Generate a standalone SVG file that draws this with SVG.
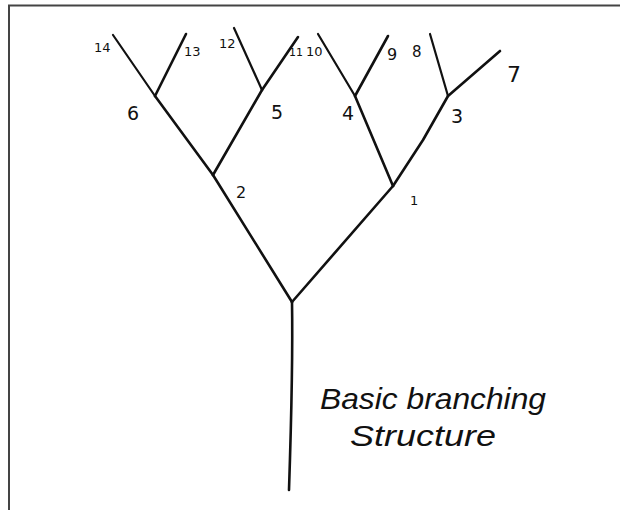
<svg xmlns="http://www.w3.org/2000/svg" width="620" height="510" viewBox="0 0 620 510">
<style>
.frame{fill:none;stroke:#444;stroke-width:2}
.br{fill:none;stroke:#111;stroke-width:2.6;stroke-linecap:round;stroke-linejoin:round}
.thin{stroke-width:2.2}
text{font-family:"DejaVu Sans","Liberation Sans",sans-serif;fill:#111}
.s{font-size:13px}
.m{font-size:19px}
.cap{font-family:"Liberation Sans",sans-serif;font-style:italic;font-size:30px}
</style>
<rect width="620" height="510" fill="#fff"/>
<path class="frame" d="M9,510 V5.5 H620"/>
<g id="connectors">
<path class="br" d="M289,490 C291,430 293,360 292,302"/>
<path class="br" d="M292,302 L213,175"/>
<path class="br" d="M292,302 L393,186"/>
<path class="br" d="M213,175 L155,96"/>
<path class="br" d="M213,175 L262,90"/>
<path class="br" d="M393,186 L355,96"/>
<path class="br" d="M393,186 L423,140 L448,96"/>
<path class="br thin" d="M155,96 L113,35"/>
<path class="br" d="M155,96 L186,34"/>
<path class="br thin" d="M262,90 L234,28"/>
<path class="br" d="M262,90 L298,37"/>
<path class="br thin" d="M355,96 L318,34"/>
<path class="br" d="M355,96 L388,36"/>
<path class="br thin" d="M448,96 L430,34"/>
<path class="br" d="M448,96 L500,51"/>
</g>
<g id="n0"/>
<g id="n1"><text class="s" x="410" y="205">1</text></g>
<g id="n2"><text class="m" x="236" y="198" style="font-size:16px">2</text></g>
<g id="n3"><text class="m" x="451" y="123">3</text></g>
<g id="n4"><text class="m" x="342" y="120">4</text></g>
<g id="n5"><text class="m" x="271" y="119">5</text></g>
<g id="n6"><text class="m" x="127" y="120">6</text></g>
<g id="n7"><text class="m" x="507" y="82" style="font-size:22px">7</text></g>
<g id="n8"><text class="s" x="412" y="57" style="font-size:15px">8</text></g>
<g id="n9"><text class="s" x="387" y="60" style="font-size:16px">9</text></g>
<g id="n10"><text class="s" x="306" y="56">10</text></g>
<g id="n11"><text class="s" x="289" y="56" style="font-size:11px">11</text></g>
<g id="n12"><text class="s" x="219" y="48">12</text></g>
<g id="n13"><text class="s" x="184" y="56">13</text></g>
<g id="n14"><text class="s" x="94" y="52">14</text></g>
<g id="caption">
<text class="cap" x="320" y="409" textLength="226" lengthAdjust="spacingAndGlyphs">Basic branching</text>
<text class="cap" x="350" y="446" textLength="146" lengthAdjust="spacingAndGlyphs">Structure</text>
</g>
</svg>
